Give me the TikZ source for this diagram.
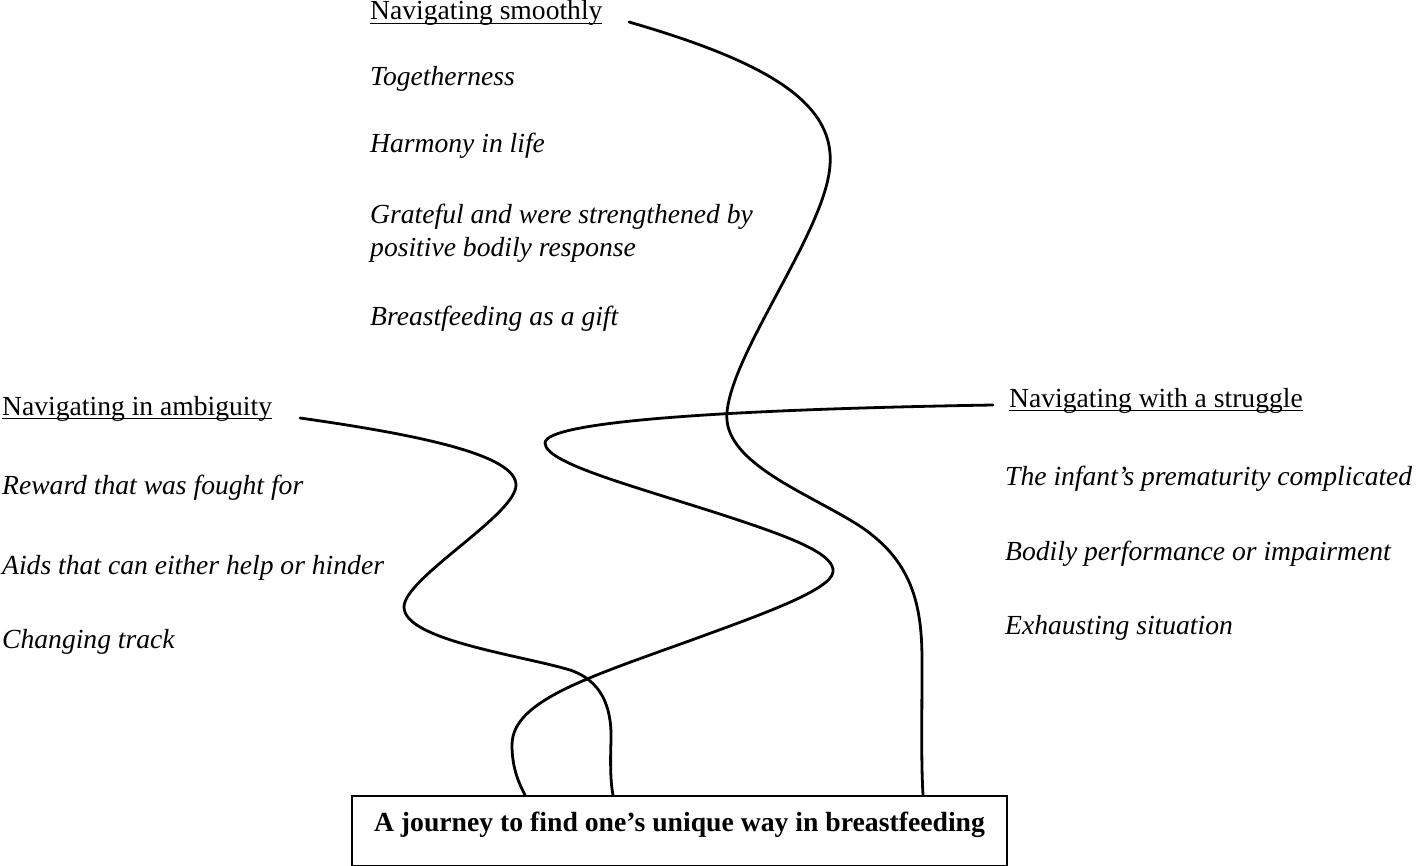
\documentclass[tikz,border=0pt]{standalone}
\usepackage{fontspec}
\setmainfont{Liberation Serif}
\usetikzlibrary{calc}
\newcommand{\myul}[1]{\setbox0\hbox{#1}\rlap{\rule[-4.3pt]{\wd0}{1.6pt}}\box0}
\tikzset{
  txt/.style={anchor=base west, inner sep=0pt, font=\fontsize{27.6}{33}\selectfont},
  head/.style={txt},
  item/.style={txt, font=\fontsize{27.6}{33}\selectfont\itshape, align=left},
  path/.style={line width=2.8pt, line cap=round},
  mainbox/.style={draw, line width=2pt, anchor=north west, minimum width=655pt,
    inner xsep=0pt, inner ysep=0pt, text height=35pt, text depth=35pt,
    font=\fontsize{27.7}{33}\selectfont\bfseries}
}
\begin{document}
\begin{tikzpicture}[x=1pt,y=-1pt]
\useasboundingbox (0,0) rectangle (1418,866);
% headings
\node[head] (ns) at (370,20) {\myul{Navigating smoothly}};
\node[head] (na) at (2,415) {\myul{Navigating in ambiguity}};
\node[head] (nw) at (1009,407) {\myul{Navigating with a struggle}};
% items smoothly
\node[item] (s1) at (370,86) {Togetherness};
\node[item] (s2) at (370,153) {Harmony in life};
\node[item] (s3) at (370,257) {Grateful and were strengthened by\\positive bodily response};
\node[item] (s4) at (370,326) {Breastfeeding as a gift};
% items ambiguity
\node[item] (a1) at (2,494) {Reward that was fought for};
\node[item] (a2) at (2,574) {Aids that can either help or hinder};
\node[item] (a3) at (2,648) {Changing track};
% items struggle
\node[item] (w1) at (1005,485) {The infant’s prematurity complicated};
\node[item] (w2) at (1005,560) {Bodily performance or impairment};
\node[item] (w3) at (1005,634) {Exhausting situation};
% main box
\node[mainbox] (box) at (351,795) {A journey to find one’s unique way in breastfeeding};
% connector start points
\coordinate (c1) at (629,22);
\coordinate (c2) at (993,405);
\coordinate (c3) at (300,418);
% Navigating smoothly -> box
\draw[path] (c1) .. controls (760,60) and (835,100) .. (830,165)
  .. controls (826,230) and (733,350) .. (727,412)
  .. controls (722,460) and (800,490) .. (850,520)
  .. controls (910,555) and (922,600) .. (922,660)
  .. controls (922,720) and (921,760) .. ($(box.north west)+(572,0)$);
% Navigating with a struggle -> box
\draw[path] (c2) .. controls (750,409) and (545,420) .. (545,443)
  .. controls (545,465) and (650,490) .. (750,524)
  .. controls (800,541) and (835,556) .. (833,572)
  .. controls (831,590) and (760,615) .. (700,637)
  .. controls (590,677) and (512,700) .. (512,745)
  .. controls (512,770) and (520,785) .. ($(box.north west)+(174,0)$);
% Navigating in ambiguity -> box
\draw[path] (c3) .. controls (420,435) and (516,455) .. (516,485)
  .. controls (516,515) and (404,578) .. (404,607)
  .. controls (404,640) and (520,655) .. (570,670)
  .. controls (600,680) and (612,705) .. (611,740)
  .. controls (610,770) and (611,785) .. ($(box.north west)+(262,0)$);
\end{tikzpicture}
\end{document}
